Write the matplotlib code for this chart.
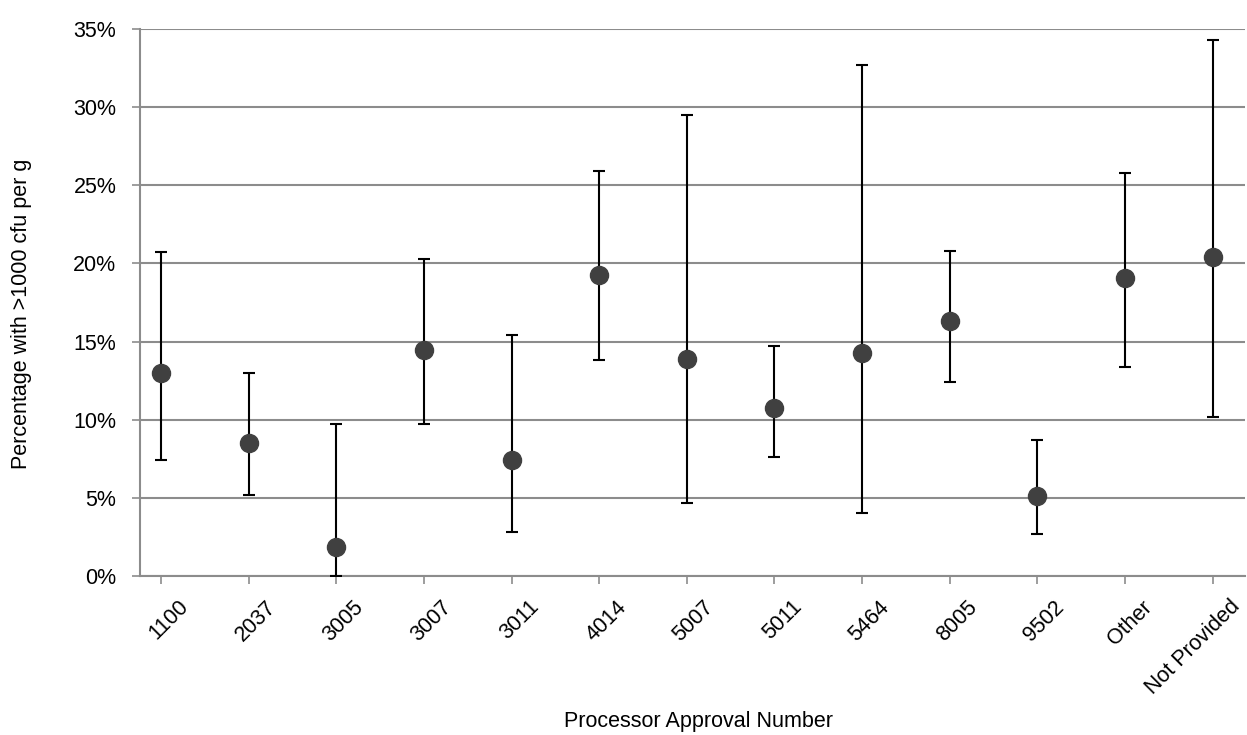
import matplotlib
matplotlib.use('Agg')
import matplotlib.pyplot as plt
import matplotlib.transforms as mtransforms
from matplotlib.ticker import FuncFormatter

matplotlib.rc('font', family=['Liberation Sans', 'DejaVu Sans'], size=15.5)

categories = ['1100', '2037', '3005', '3007', '3011', '4014', '5007',
              '5011', '5464', '8005', '9502', 'Other', 'Not Provided']
pct = [12.97, 8.53, 1.84, 14.46, 7.42, 19.28, 13.87,
       10.74, 14.26, 16.32, 5.10, 19.06, 20.40]
upper = [20.7, 13.0, 9.7, 20.3, 15.4, 25.9, 29.5,
         14.7, 32.7, 20.8, 8.7, 25.8, 34.3]
lower = [7.4, 5.2, 0.0, 9.7, 2.8, 13.8, 4.7,
         7.6, 4.0, 12.4, 2.7, 13.4, 10.2]
yticks = [0, 5, 10, 15, 20, 25, 30, 35]

grid_col = '#8c8c8c'

fig = plt.figure(figsize=(12.47, 7.35), dpi=100)
ax = fig.add_axes([140/1247, 1 - 576/735, 1105/1247, 547/735])

x = list(range(len(categories)))
err = [[p - lo for p, lo in zip(pct, lower)], [up - p for p, up in zip(pct, upper)]]
ax.errorbar(x, pct, yerr=err, fmt='o', color='#404040', markersize=13,
            ecolor='black', elinewidth=1.5, capsize=4.5, capthick=1.5, zorder=3)

ax.set_ylim(0, 35)
ax.set_xlim(-0.24, 12.37)
ax.set_yticks(yticks)
ax.yaxis.set_major_formatter(FuncFormatter(lambda v, _: f'{v:.0f}%'))
ax.set_xticks(x)

ax.grid(axis='y', color=grid_col, linewidth=1.5)
ax.set_axisbelow(True)
for side in ['top', 'right']:
    ax.spines[side].set_visible(False)
for side in ['left', 'bottom']:
    ax.spines[side].set_color(grid_col)
    ax.spines[side].set_linewidth(1.5)
ax.tick_params(axis='both', color=grid_col, width=1.2, length=6, labelcolor='black')
ax.tick_params(axis='y', pad=11)
ax.tick_params(axis='x', pad=14)

# rotated labels sit a bit right of their ticks, like the original
ax.set_xticklabels(categories, rotation=45, ha='right', va='center',
                   rotation_mode='anchor')
shift = mtransforms.ScaledTranslation(24/100, 0, fig.dpi_scale_trans)
for lab in ax.get_xticklabels():
    lab.set_transform(lab.get_transform() + shift)

ax.set_ylabel('Percentage with >1000 cfu per g')
ax.yaxis.set_label_coords(-108/1105, 0.48)
ax.set_xlabel('Processor Approval Number')
ax.xaxis.set_label_coords(0.505, -135/547)

fig.savefig('out.png', dpi=100)
